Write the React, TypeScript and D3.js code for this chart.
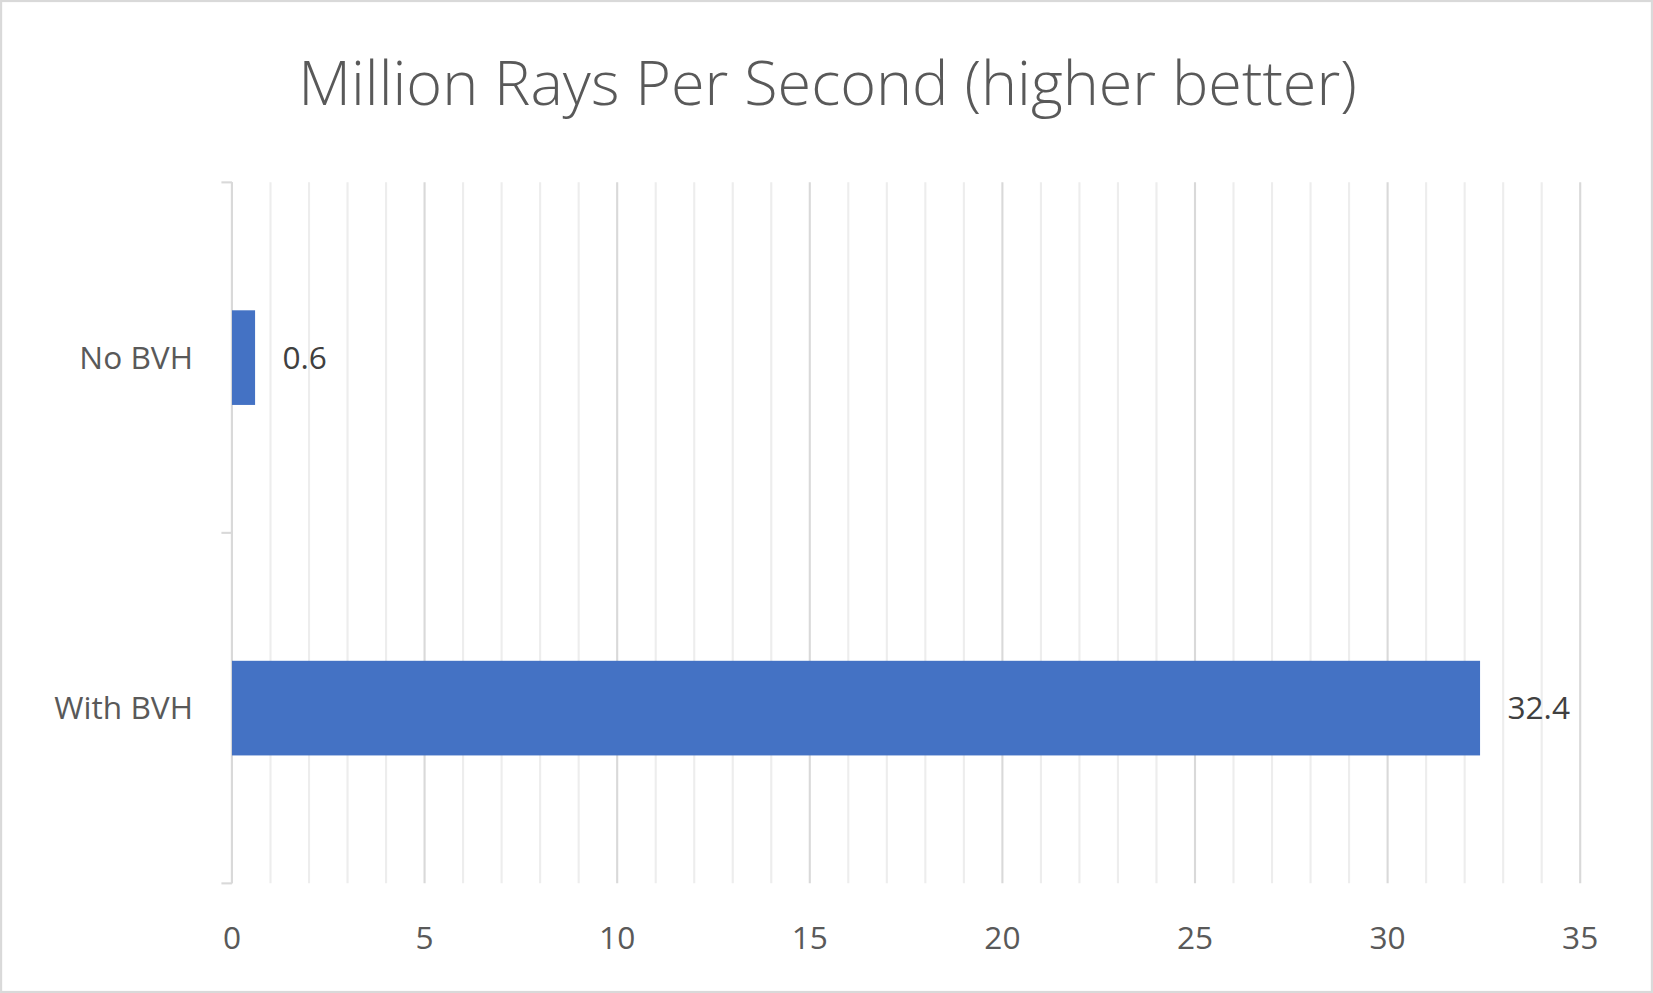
import * as d3 from "d3";

const categories = ["No BVH", "With BVH"];
const values = [0.6, 32.4];
const xTicks = [0, 5, 10, 15, 20, 25, 30, 35];
const title = "Million Rays Per Second (higher better)";

const W = 1568;
const H = 942;
const plot = { left: 220, right: 1499, top: 173, bottom: 838 };
const font = "'Open Sans', 'Noto Sans', sans-serif";

export default function App() {
  const x = d3.scaleLinear().domain([0, 35]).range([plot.left, plot.right]);
  const y = d3
    .scaleBand<string>()
    .domain(categories)
    .range([plot.top, plot.bottom])
    .paddingInner(0.73)
    .paddingOuter(0.365);
  const band = d3.scaleBand<string>().domain(categories).range([plot.top, plot.bottom]);
  const minor = d3.range(0, 36, 1);

  return (
    <svg
      width={1653}
      height={993}
      viewBox={`0 0 ${W} ${H}`}
      style={{ position: "absolute", left: 0, top: 0, display: "block" }}
    >
      <rect x={1} y={1} width={W - 2} height={H - 2} fill="#fff" stroke="#d9d9d9" strokeWidth={2} />
      <text x={785} y={100} textAnchor="middle" fontFamily={font} fontWeight={300} fontSize={58} fill="#595959">
        {title}
      </text>
      {minor.map((v) => (
        <line
          key={v}
          x1={x(v)}
          x2={x(v)}
          y1={plot.top}
          y2={plot.bottom}
          stroke={v % 5 === 0 ? "#d9d9d9" : "#ededed"}
          strokeWidth={2}
        />
      ))}
      <line x1={plot.left} x2={plot.left} y1={plot.top} y2={plot.bottom} stroke="#d9d9d9" strokeWidth={2} />
      {[plot.top, ...categories.map((c) => (band(c) ?? 0) + band.bandwidth())].map((t, i) => (
        <line key={i} x1={plot.left - 10} x2={plot.left} y1={t} y2={t} stroke="#d9d9d9" strokeWidth={2} />
      ))}
      {categories.map((c, i) => (
        <g key={c}>
          <rect x={x(0)} y={y(c)} width={x(values[i]) - x(0)} height={y.bandwidth()} fill="#4472c4" />
          <text
            x={183}
            y={(y(c) ?? 0) + y.bandwidth() / 2}
            dy="0.35em"
            textAnchor="end"
            fontFamily={font}
            fontSize={30}
            fill="#595959"
          >
            {c}
          </text>
          <text
            x={x(values[i]) + 26}
            y={(y(c) ?? 0) + y.bandwidth() / 2}
            dy="0.35em"
            fontFamily={font}
            fontSize={30}
            fill="#404040"
          >
            {values[i]}
          </text>
        </g>
      ))}
      {xTicks.map((t) => (
        <text key={t} x={x(t)} y={900} textAnchor="middle" fontFamily={font} fontSize={30} fill="#595959">
          {t}
        </text>
      ))}
    </svg>
  );
}
